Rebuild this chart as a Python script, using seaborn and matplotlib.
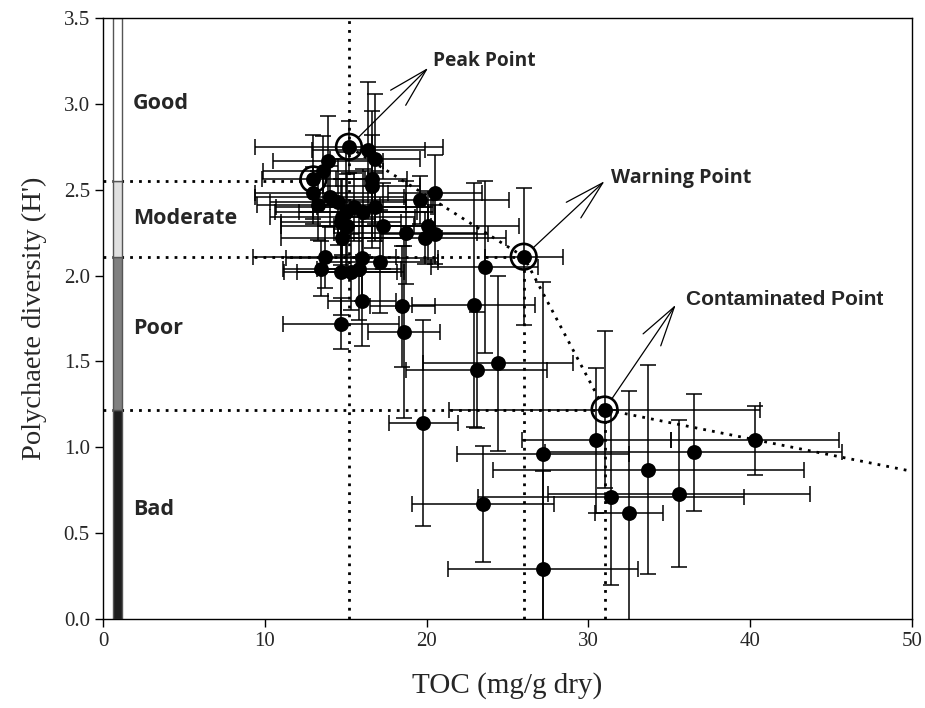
import matplotlib
matplotlib.use('Agg')
import matplotlib.pyplot as plt
import seaborn as sns
import pandas as pd

# TOC (mg/g dry) and polychaete diversity H' with their error bars
toc = [13.9, 13.6, 14.0, 13.0, 13.3, 14.5, 14.8, 15.1, 15.5, 14.7, 14.8, 15.0,
       16.4, 16.8, 16.6, 16.6, 16.1, 16.8, 17.3, 18.7, 20.1, 19.9, 20.5, 19.6, 20.5,
       13.7, 13.5, 14.7, 15.3, 15.8, 16.0, 17.1, 16.0, 18.5, 18.6, 14.7,
       23.6, 22.9, 23.1, 24.4, 19.8,
       30.5, 40.3, 36.5, 27.2, 33.7, 35.6, 31.4, 32.5, 23.5, 27.2,
       13.0, 15.2, 26.0, 31.0]
hdiv = [2.67, 2.61, 2.46, 2.48, 2.41, 2.43, 2.34, 2.29, 2.40, 2.31, 2.22, 2.37,
        2.73, 2.68, 2.56, 2.52, 2.37, 2.40, 2.29, 2.25, 2.29, 2.22, 2.24, 2.44, 2.48,
        2.11, 2.04, 2.02, 2.02, 2.04, 2.10, 2.08, 1.85, 1.82, 1.67, 1.72,
        2.05, 1.83, 1.45, 1.49, 1.14,
        1.04, 1.04, 0.97, 0.96, 0.87, 0.73, 0.71, 0.62, 0.67, 0.29,
        2.56, 2.75, 2.11, 1.22]
toc_err = [3.4, 3.7, 4.6, 3.6, 3.8, 4.2, 4.5, 4.1, 4.8, 3.7, 3.8, 4.4,
           3.5, 2.8, 2.2, 3.0, 4.0, 3.6, 3.0, 4.4, 5.6, 5.0, 3.3, 5.5, 2.9,
           4.4, 2.4, 3.5, 3.3, 2.6, 4.7, 3.6, 2.1, 2.0, 2.2, 3.6,
           3.3, 3.8, 4.35, 4.65, 2.15,
           4.6, 5.2, 9.2, 5.3, 9.6, 8.1, 8.2, 2.1, 4.4, 5.85,
           3.2, 5.8, 2.4, 9.6]
hdiv_err = [0.26, 0.20, 0.18, 0.15, 0.20, 0.25, 0.22, 0.30, 0.20, 0.25, 0.18, 0.35,
            0.40, 0.38, 0.40, 0.30, 0.25, 0.20, 0.25, 0.30, 0.20, 0.15, 0.17, 0.14, 0.22,
            0.18, 0.16, 0.25, 0.22, 0.30, 0.25, 0.30, 0.26, 0.35, 0.50, 0.15,
            0.50, 0.71, 0.34, 0.51, 0.60,
            0.42, 0.20, 0.34, 1.00, 0.61, 0.43, 0.51, 0.71, 0.34, 0.57,
            0.26, 0.15, 0.40, 0.46]

# key points (circled)
key_toc = [13.0, 15.2, 26.0, 31.0]
key_h = [2.56, 2.75, 2.11, 1.22]

# threshold path: peak -> warning -> contaminated -> edge
path_toc = [15.2, 26.0, 31.0, 50.0]
path_h = [2.75, 2.11, 1.22, 0.86]

# ecological quality classes on the left bar
class_names = ['Bad', 'Poor', 'Moderate', 'Good']
class_low = [0.0, 1.22, 2.11, 2.55]
class_high = [1.22, 2.11, 2.55, 3.5]
class_colors = ['#1e1e1e', '#808080', '#e0e0e0', 'white']
class_label_y = [0.64, 1.69, 2.33, 3.0]

annot_names = ['Peak Point', 'Warning Point', 'Contaminated Point']
annot_from = [(15.2, 2.75), (26.0, 2.11), (31.0, 1.22)]
annot_tip = [(20.1, 3.21), (31.0, 2.55), (35.4, 1.83)]
annot_text = [(20.4, 3.25), (31.4, 2.57), (36.05, 1.86)]
annot_font = ['Open Sans', 'Open Sans', 'Liberation Sans']
annot_size = [13.8, 14.2, 15]

df = pd.DataFrame({'toc': toc, 'h': hdiv, 'toc_err': toc_err, 'h_err': hdiv_err})

sns.set_style('ticks')
plt.rcParams['font.family'] = ['Liberation Serif', 'DejaVu Serif']

fig = plt.figure(figsize=(9.25, 7.08), dpi=100)
ax = fig.add_axes([103 / 925, 89 / 708, 809 / 925, 601 / 708])

dot = (0, (1, 2.2))
lw_dot = 2.0
# reference dotted lines
ax.plot([0, 13.0], [2.55, 2.55], color='black', ls=dot, lw=lw_dot, zorder=1)
ax.plot([0, 26.0], [2.11, 2.11], color='black', ls=dot, lw=lw_dot, zorder=1)
ax.plot([0, 31.0], [1.22, 1.22], color='black', ls=dot, lw=lw_dot, zorder=1)
ax.plot([15.2, 15.2], [0, 3.5], color='black', ls=dot, lw=lw_dot, zorder=1)
ax.plot([26.0, 26.0], [0, 2.11], color='black', ls=dot, lw=lw_dot, zorder=1)
ax.plot([31.0, 31.0], [0, 1.22], color='black', ls=dot, lw=lw_dot, zorder=1)
ax.plot(path_toc, path_h, color='black', ls=dot, lw=lw_dot, zorder=1)

# quality class bar
for lo, hi, c in zip(class_low, class_high, class_colors):
    ax.bar(0.9, hi - lo, bottom=lo, width=0.6, color=c, edgecolor='#555555',
           linewidth=1.0, zorder=2)
for name, yy in zip(class_names, class_label_y):
    ax.text(1.85, yy, name, fontsize=15.5, fontweight='bold',
            family=['Open Sans', 'DejaVu Sans'], ha='left', va='center')

ax.errorbar(df['toc'], df['h'], xerr=df['toc_err'], yerr=df['h_err'], fmt='none',
            ecolor='black', elinewidth=1.1, capsize=6, capthick=1.1, zorder=3)
sns.scatterplot(data=df, x='toc', y='h', s=115, color='black', edgecolor='black',
                linewidth=0, ax=ax, zorder=4)
ax.scatter(key_toc, key_h, s=340, facecolors='none', edgecolors='black',
           linewidths=1.9, zorder=5)

for name, p0, tip, tpos, fam, fs in zip(annot_names, annot_from, annot_tip,
                                        annot_text, annot_font, annot_size):
    ax.annotate('', xy=tip, xytext=p0,
                arrowprops=dict(arrowstyle='->,head_length=2.4,head_width=0.64',
                                lw=0.9, color='black', shrinkA=9, shrinkB=0,
                                mutation_scale=12))
    ax.text(tpos[0], tpos[1], name, fontsize=fs, fontweight='bold',
            family=[fam, 'DejaVu Sans'], ha='left', va='center')

ax.set_xlim(0, 50)
ax.set_ylim(0, 3.5)
ax.set_xticks([0, 10, 20, 30, 40, 50])
ax.set_yticks([0, 0.5, 1.0, 1.5, 2.0, 2.5, 3.0, 3.5])
ax.set_yticklabels([f'{v:.1f}' for v in [0, 0.5, 1.0, 1.5, 2.0, 2.5, 3.0, 3.5]])
ax.tick_params(direction='out', length=6, width=1, labelsize=15, color='black')
for sp in ax.spines.values():
    sp.set_visible(True)
    sp.set_color('black')
    sp.set_linewidth(1.0)
ax.set_xlabel('TOC (mg/g dry)', fontsize=21, labelpad=15)
ax.set_ylabel("Polychaete diversity (H')", fontsize=20.5, labelpad=12)

fig.savefig('out.png', dpi=100)
